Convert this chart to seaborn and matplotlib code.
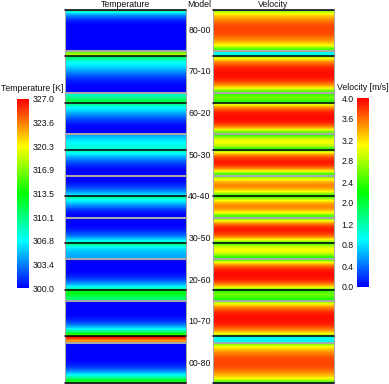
import numpy as np
import matplotlib
matplotlib.use("Agg")
import matplotlib.pyplot as plt
import seaborn as sns
from matplotlib.colors import Normalize
from matplotlib.cm import ScalarMappable

sns.set_theme(style="white")
plt.rcParams['font.family'] = ['Liberation Sans', 'DejaVu Sans']

# ---------------- data ----------------
models = ["80-00", "70-10", "60-20", "50-30", "40-40", "30-50", "20-60", "10-70", "00-80"]

# vertical temperature profiles [K], top -> bottom, one sample per 5 height units
T_80_00 = [311, 306, 303.8, 302.2, 301, 300.3, 300, 300, 300, 300, 300, 300, 300, 300, 300, 300]
T_70_10 = [315.5, 318, 311, 308.5, 307, 306.3, 305.5, 304.5, 303.5, 302.5, 301.7, 301, 300.5, 300.2, 300, 300]
T_60_20 = [307.5, 309, 310.5, 312, 311, 308, 306.5, 305.5, 304.3, 303.2, 302.2, 301.3, 300.6, 300.2, 300, 300]
T_50_30 = [304.5, 305.5, 306.3, 307, 307.5, 308, 309, 307, 305.5, 304, 302.8, 301.8, 301, 300.4, 300.1, 300]
T_40_40 = [300, 300, 300.3, 300.8, 301.6, 302.8, 304.3, 306, 309.5, 307, 305.5, 304, 302.5, 301.2, 300.4, 300]
T_30_50 = [300, 300, 300, 300.2, 300.6, 301.3, 302.3, 303.7, 305.5, 308, 311, 307.5, 306, 305.2, 304.8, 304.6]
T_20_60 = [300, 300, 300, 300, 300, 300.3, 300.8, 301.6, 302.7, 304.2, 306.2, 309, 313, 313, 312, 310.5]
T_10_70 = [300, 300, 300, 300, 300, 300, 300.3, 300.8, 301.8, 303.2, 305, 307.5, 311, 315, 326.5, 323]
T_00_80 = [300, 300, 300, 300, 300, 300, 300, 300.2, 300.6, 301.3, 302.5, 304, 306, 308.5, 311.5, 313.5]

# vertical velocity profiles [m/s], top -> bottom
V_80_00 = [2.3, 2.9, 3.15, 3.35, 3.5, 3.62, 3.7, 3.72, 3.72, 3.7, 3.62, 3.5, 3.35, 3.15, 2.85, 2.3]
V_70_10 = [1.05, 1.1, 2.7, 3.2, 3.5, 3.7, 3.85, 3.92, 3.95, 3.95, 3.9, 3.8, 3.6, 3.35, 3.0, 2.4]
V_60_20 = [2.1, 2.4, 2.4, 2.1, 2.6, 3.2, 3.55, 3.8, 3.92, 3.96, 3.96, 3.9, 3.75, 3.5, 3.1, 2.4]
V_50_30 = [2.2, 2.7, 2.95, 2.95, 2.7, 2.2, 2.5, 3.1, 3.5, 3.75, 3.88, 3.88, 3.75, 3.45, 3.0, 2.3]
V_40_40 = [2.3, 2.9, 3.25, 3.45, 3.45, 3.25, 2.9, 2.3, 2.3, 2.9, 3.25, 3.45, 3.45, 3.25, 2.9, 2.3]
V_30_50 = [2.3, 3.0, 3.45, 3.75, 3.88, 3.88, 3.75, 3.5, 3.1, 2.5, 2.2, 2.7, 2.95, 2.95, 2.7, 2.2]
V_20_60 = [2.4, 3.1, 3.5, 3.75, 3.9, 3.96, 3.96, 3.92, 3.8, 3.55, 3.2, 2.6, 2.1, 2.4, 2.4, 2.1]
V_10_70 = [2.4, 3.0, 3.35, 3.6, 3.8, 3.9, 3.95, 3.95, 3.92, 3.85, 3.7, 3.5, 3.2, 2.7, 1.1, 1.05]
V_00_80 = [2.3, 2.85, 3.15, 3.35, 3.5, 3.62, 3.7, 3.72, 3.72, 3.7, 3.62, 3.5, 3.35, 3.15, 2.9, 2.3]

temp_ticks = ["327.0", "323.6", "320.3", "316.9", "313.5", "310.1", "306.8", "303.4", "300.0"]
vel_ticks = ["4.0", "3.6", "3.2", "2.8", "2.4", "2.0", "1.2", "0.8", "0.4", "0.0"]
T_min, T_max = 300.0, 327.0
V_min, V_max = 0.0, 4.0

temp_profiles = [T_80_00, T_70_10, T_60_20, T_50_30, T_40_40, T_30_50, T_20_60, T_10_70, T_00_80]
vel_profiles = [V_80_00, V_70_10, V_60_20, V_50_30, V_40_40, V_30_50, V_20_60, V_10_70, V_00_80]

# ---------------- style ----------------
cmap = sns.blend_palette(["#0000ff", "#00ffff", "#00ff00", "#ffff00", "#ff0000"], as_cmap=True)
FS = 6.3
W, H = 389, 384
fig = plt.figure(figsize=(W / 100, H / 100), dpi=100)
fig.patch.set_facecolor("white")


def fx(px):
    return px / W


def fy(px):
    return 1 - px / H


def draw_panel(ax, profile, model, norm):
    lower, upper = [int(s) for s in model.split("-")]
    total = lower + upper
    n_up = upper // 5
    up_vals = list(profile[:n_up])
    lo_vals = list(profile[n_up:])
    kw = dict(cmap=cmap, norm=norm, aspect="auto", interpolation="bilinear",
              interpolation_stage="data", origin="lower")
    if n_up > 0:
        ax.imshow(np.array(up_vals[::-1], float).reshape(-1, 1),
                  extent=(0, 1, lower, total), **kw)
    if len(lo_vals) > 0:
        ax.imshow(np.array(lo_vals[::-1], float).reshape(-1, 1),
                  extent=(0, 1, 0, lower), **kw)
    ax.set_xlim(0, 1)
    ax.set_ylim(0, total)
    ax.axhline(lower, color="#050510", lw=1.15, clip_on=False, zorder=3)
    ax.set_xticks([])
    ax.set_yticks([])
    for sp in ax.spines.values():
        sp.set_color("#a8a8a8")
        sp.set_linewidth(0.75)
        sp.set_visible(True)


normT = Normalize(T_min, T_max)
normV = Normalize(V_min, V_max)

top0, pitch, ph = 9.5, 41.65, 40.5
for i, m in enumerate(models):
    top = top0 + i * pitch
    axT = fig.add_axes([fx(65), fy(top + ph), fx(121), ph / H])
    draw_panel(axT, temp_profiles[i], m, normT)
    axV = fig.add_axes([fx(213), fy(top + ph), fx(121), ph / H])
    draw_panel(axV, vel_profiles[i], m, normV)
    fig.text(fx(199.5), fy(top + ph / 2 + 0.5), m, ha="center", va="center", fontsize=FS, color="#111111")

fig.text(fx(125.5), fy(4.5), "Temperature", ha="center", va="center", fontsize=FS, color="#111111")
fig.text(fx(199.5), fy(4.5), "Model", ha="center", va="center", fontsize=FS, color="#111111")
fig.text(fx(273.5), fy(4.5), "Velocity", ha="center", va="center", fontsize=FS, color="#111111")

# colorbars
caxT = fig.add_axes([fx(17), fy(288), fx(12), 189 / H])
cbT = fig.colorbar(ScalarMappable(norm=normT, cmap=cmap), cax=caxT)
cbT.outline.set_visible(False)
cbT.set_ticks(np.linspace(T_max, T_min, len(temp_ticks)))
cbT.set_ticklabels(temp_ticks)
caxT.tick_params(length=0, pad=2.5, labelsize=FS, colors="#111111")
fig.text(fx(1), fy(88.5), "Temperature [K]", ha="left", va="center", fontsize=FS, color="#111111")

caxV = fig.add_axes([fx(357), fy(287), fx(12), 189 / H])
cbV = fig.colorbar(ScalarMappable(norm=normV, cmap=cmap), cax=caxV)
cbV.outline.set_visible(False)
cbV.set_ticks(np.linspace(V_max, V_min, len(vel_ticks)))
cbV.set_ticklabels(vel_ticks)
caxV.yaxis.set_ticks_position("left")
caxV.yaxis.set_label_position("left")
caxV.tick_params(length=0, pad=2.5, labelsize=FS, colors="#111111")
fig.text(fx(388.5), fy(88), "Velocity [m/s]", ha="right", va="center", fontsize=FS, color="#111111")

fig.savefig("out.png", dpi=100, facecolor="white")
